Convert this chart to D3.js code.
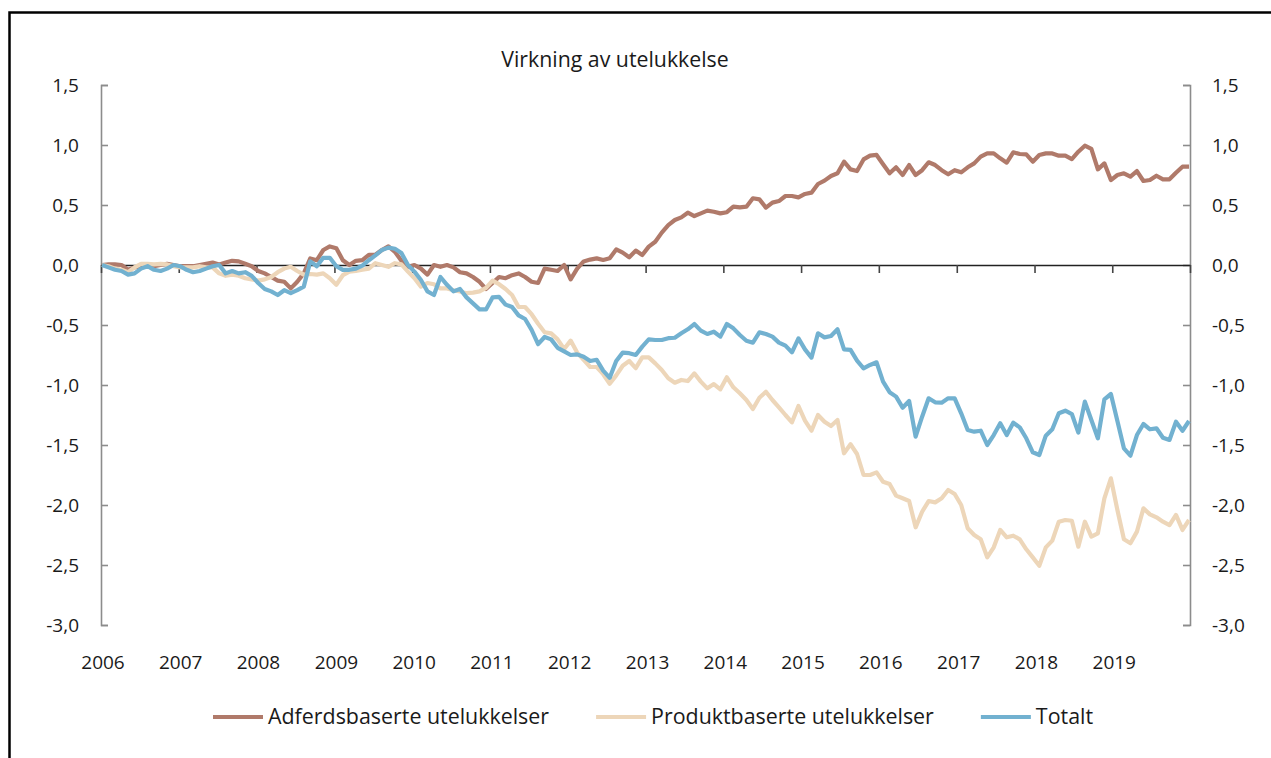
<!DOCTYPE html>
<html>
<head>
<meta charset="utf-8">
<script src="https://cdn.jsdelivr.net/npm/d3@7"></script>
<style>
  body { margin: 0; background: #fff; }
  svg text { font-family: "Open Sans", sans-serif; fill: #1a1a1a; }
</style>
</head>
<body>
<script>
//-----------------Data----------------

const seriesNames = ["Adferdsbaserte utelukkelser", "Produktbaserte utelukkelser", "Totalt"];
const seriesColors = ["#b07a6a", "#edd6b9", "#72b1d0"];

// monthly, jan 2006 - dec 2019
const adferd = [
  0, 0.005, 0.005, 0, -0.04, -0.02, -0.01, 0, -0.01, 0, 0.01, 0,
  -0.01, -0.01, -0.01, 0, 0.01, 0.02, 0.005, 0.02, 0.035, 0.03, 0.01, -0.01,
  -0.05, -0.07, -0.1, -0.13, -0.14, -0.195, -0.14, -0.07, 0.055, 0.04, 0.125, 0.155,
  0.14, 0.04, 0, 0.035, 0.04, 0.085, 0.085, 0.125, 0.155, 0.11, 0.035, -0.015,
  0, -0.03, -0.08, 0, -0.015, 0, -0.02, -0.06, -0.07, -0.1, -0.14, -0.2,
  -0.15, -0.1, -0.11, -0.085, -0.07, -0.1, -0.14, -0.15, -0.03, -0.04, -0.05, 0,
  -0.12, -0.03, 0.03, 0.045, 0.055, 0.042, 0.056, 0.13, 0.103, 0.064, 0.12, 0.083,
  0.153, 0.194, 0.27, 0.333, 0.375, 0.397, 0.436, 0.408, 0.43, 0.453, 0.444, 0.43,
  0.44, 0.486, 0.48, 0.486, 0.556, 0.547, 0.478, 0.52, 0.533, 0.575, 0.575, 0.564,
  0.592, 0.603, 0.675, 0.703, 0.742, 0.764, 0.861, 0.797, 0.783, 0.88, 0.911, 0.917,
  0.84, 0.764, 0.814, 0.75, 0.833, 0.75, 0.79, 0.856, 0.833, 0.79, 0.756, 0.79,
  0.772, 0.814, 0.847, 0.903, 0.93, 0.93, 0.889, 0.853, 0.939, 0.925, 0.922, 0.861,
  0.917, 0.93, 0.93, 0.911, 0.911, 0.883, 0.944, 0.994, 0.967, 0.797, 0.847, 0.708,
  0.75, 0.764, 0.736, 0.783, 0.7, 0.708, 0.744, 0.714, 0.714, 0.769, 0.819, 0.819
];

const produkt = [
  0, -0.01, -0.03, -0.04, -0.06, -0.02, 0.01, 0.01, 0.005, 0.01, 0.005, -0.01,
  -0.02, -0.02, -0.02, -0.01, -0.02, -0.02, -0.07, -0.09, -0.08, -0.09, -0.11, -0.12,
  -0.13, -0.12, -0.1, -0.06, -0.03, -0.015, -0.05, -0.08, -0.075, -0.08, -0.07, -0.11,
  -0.165, -0.085, -0.055, -0.05, -0.04, -0.03, 0.015, 0, -0.015, 0.015, 0.005, -0.055,
  -0.11, -0.18, -0.15, -0.16, -0.195, -0.195, -0.21, -0.22, -0.235, -0.23, -0.22, -0.19,
  -0.13, -0.16, -0.2, -0.25, -0.35, -0.35, -0.41, -0.49, -0.56, -0.57, -0.62, -0.7,
  -0.63, -0.73, -0.79, -0.85, -0.85, -0.91, -0.99, -0.92, -0.84, -0.8, -0.86, -0.77,
  -0.77, -0.82, -0.875, -0.944, -0.981, -0.958, -0.967, -0.903, -0.972, -1.028, -0.992, -1.036,
  -0.936, -1.019, -1.069, -1.125, -1.2, -1.106, -1.056, -1.125, -1.186, -1.25, -1.311, -1.175,
  -1.297, -1.381, -1.25, -1.306, -1.342, -1.292, -1.569, -1.494, -1.575, -1.75, -1.75, -1.728,
  -1.806, -1.825, -1.922, -1.944, -1.967, -2.186, -2.056, -1.967, -1.978, -1.944, -1.875, -1.908,
  -2.0, -2.194, -2.25, -2.286, -2.436, -2.353, -2.208, -2.269, -2.256, -2.286, -2.369, -2.436,
  -2.506, -2.353, -2.297, -2.139, -2.125, -2.131, -2.347, -2.139, -2.264, -2.236, -1.944, -1.778,
  -2.042, -2.286, -2.319, -2.222, -2.028, -2.078, -2.103, -2.139, -2.167, -2.083, -2.208, -2.125
];

const totalt = [
  0, -0.02, -0.04, -0.05, -0.08, -0.07, -0.03, -0.01, -0.04, -0.05, -0.03, 0,
  -0.01, -0.04, -0.06, -0.05, -0.03, -0.01, 0, -0.07, -0.05, -0.07, -0.06, -0.09,
  -0.15, -0.2, -0.22, -0.25, -0.21, -0.235, -0.21, -0.18, 0.03, -0.01, 0.06, 0.06,
  -0.01, -0.04, -0.04, -0.03, -0.005, 0.04, 0.08, 0.125, 0.145, 0.135, 0.1, 0,
  -0.055, -0.125, -0.22, -0.25, -0.1, -0.165, -0.22, -0.2, -0.27, -0.32, -0.37, -0.37,
  -0.27, -0.265, -0.33, -0.35, -0.42, -0.45, -0.54, -0.66, -0.6, -0.62, -0.69, -0.72,
  -0.75, -0.745, -0.765, -0.8, -0.79, -0.88, -0.94, -0.8, -0.73, -0.735, -0.75, -0.68,
  -0.62, -0.625, -0.625, -0.61, -0.606, -0.569, -0.536, -0.492, -0.547, -0.575, -0.556, -0.597,
  -0.492, -0.528, -0.583, -0.631, -0.647, -0.561, -0.575, -0.597, -0.647, -0.672, -0.728, -0.611,
  -0.703, -0.772, -0.569, -0.603, -0.592, -0.536, -0.703, -0.708, -0.797, -0.861, -0.833, -0.811,
  -0.972, -1.06, -1.097, -1.189, -1.133, -1.431, -1.264, -1.111, -1.144, -1.147, -1.111, -1.111,
  -1.236, -1.375, -1.389, -1.381, -1.5, -1.417, -1.319, -1.417, -1.314, -1.353, -1.444, -1.561,
  -1.583, -1.422, -1.369, -1.236, -1.214, -1.242, -1.397, -1.139, -1.292, -1.444, -1.119, -1.075,
  -1.3, -1.528, -1.589, -1.417, -1.325, -1.369, -1.361, -1.439, -1.458, -1.306, -1.381, -1.3
];

const yearLabels = [2006, 2007, 2008, 2009, 2010, 2011, 2012, 2013, 2014, 2015, 2016, 2017, 2018, 2019];
const yTicks = [1.5, 1, 0.5, 0, -0.5, -1, -1.5, -2, -2.5, -3];

//-----------------Svg----------------

const width = 1271;
const height = 758;
const margin = { top: 85, right: 81, bottom: 133, left: 101 };

const svg = d3.select("body").append("svg").attr("width", width).attr("height", height);

// frame
svg.append("path")
  .attr("d", `M9.5,${height} V12.5 H${width}`)
  .attr("fill", "none")
  .attr("stroke", "#000")
  .attr("stroke-width", 2.5);

svg.append("text")
  .attr("x", 615)
  .attr("y", 67)
  .attr("text-anchor", "middle")
  .style("font-size", "21.3px")
  .text("Virkning av utelukkelse");

//-----------------Scales----------------

const x = d3.scaleTime()
  .domain([new Date(2006, 0, 1), new Date(2020, 0, 1)])
  .range([margin.left, width - margin.right]);

const xi = d3.scaleLinear()
  .domain([0, adferd.length - 1])
  .range([x.range()[0] + 1, x.range()[1] - 1]);

const y = d3.scaleLinear()
  .domain([-3, 1.5])
  .range([height - margin.bottom, margin.top]);

const fmt = (d) => d3.format(".1f")(d).replace(".", ",").replace("−", "-");

//-----------------Axes----------------

const yLeft = svg.append("g")
  .attr("transform", `translate(${x.range()[0]},0)`)
  .call(d3.axisRight(y).tickValues(yTicks).tickSize(7).tickFormat(""));
const yRight = svg.append("g")
  .attr("transform", `translate(${x.range()[1]},0)`)
  .call(d3.axisLeft(y).tickValues(yTicks).tickSize(7).tickFormat(""));
[yLeft, yRight].forEach((g) => {
  g.select(".domain").attr("stroke", "#8c8c8c").attr("stroke-width", 1.6);
  g.selectAll(".tick line").attr("stroke", "#8c8c8c").attr("stroke-width", 1.6);
});

svg.append("g").selectAll("text")
  .data(yTicks)
  .join("text")
  .attr("x", x.range()[0] - 22)
  .attr("y", (d) => y(d))
  .attr("dy", "0.35em")
  .attr("text-anchor", "end")
  .style("font-size", "19px")
  .text(fmt);

svg.append("g").selectAll("text")
  .data(yTicks)
  .join("text")
  .attr("x", x.range()[1] + 22)
  .attr("y", (d) => y(d))
  .attr("dy", "0.35em")
  .attr("text-anchor", "start")
  .style("font-size", "19px")
  .text(fmt);

// zero line with year ticks
const xAxis = svg.append("g")
  .attr("transform", `translate(0,${y(0)})`)
  .call(d3.axisBottom(x).ticks(d3.timeYear.every(1)).tickSize(8).tickSizeOuter(0).tickFormat(""));
xAxis.select(".domain").attr("stroke", "#222").attr("stroke-width", 1.6);
xAxis.selectAll(".tick line").attr("stroke", "#444").attr("stroke-width", 1.6);

svg.append("g").selectAll("text")
  .data(yearLabels)
  .join("text")
  .attr("x", (d) => x(new Date(d, 0, 1)) + 2)
  .attr("y", 669)
  .attr("text-anchor", "middle")
  .style("font-size", "19px")
  .text((d) => d);

//-----------------Lines----------------

const line = d3.line().x((d, i) => xi(i)).y((d) => y(d));

[adferd, produkt, totalt].forEach((s, k) => {
  svg.append("path")
    .datum(s)
    .attr("fill", "none")
    .attr("stroke", seriesColors[k])
    .attr("stroke-width", 4.2)
    .attr("stroke-linejoin", "round")
    .attr("d", line);
});

//-----------------Legend----------------

const legend = svg.append("g").attr("id", "legend");
let lx = 213;
seriesNames.forEach((name, k) => {
  legend.append("line")
    .attr("x1", lx).attr("x2", lx + 50)
    .attr("y1", 717).attr("y2", 717)
    .attr("stroke", seriesColors[k])
    .attr("stroke-width", 4.2);
  const t = legend.append("text")
    .attr("x", lx + 55)
    .attr("y", 717)
    .attr("dy", "0.35em")
    .style("font-size", "21.4px")
    .text(name);
  lx += 55 + t.node().getComputedTextLength() + 47;
});
</script>
</body>
</html>
